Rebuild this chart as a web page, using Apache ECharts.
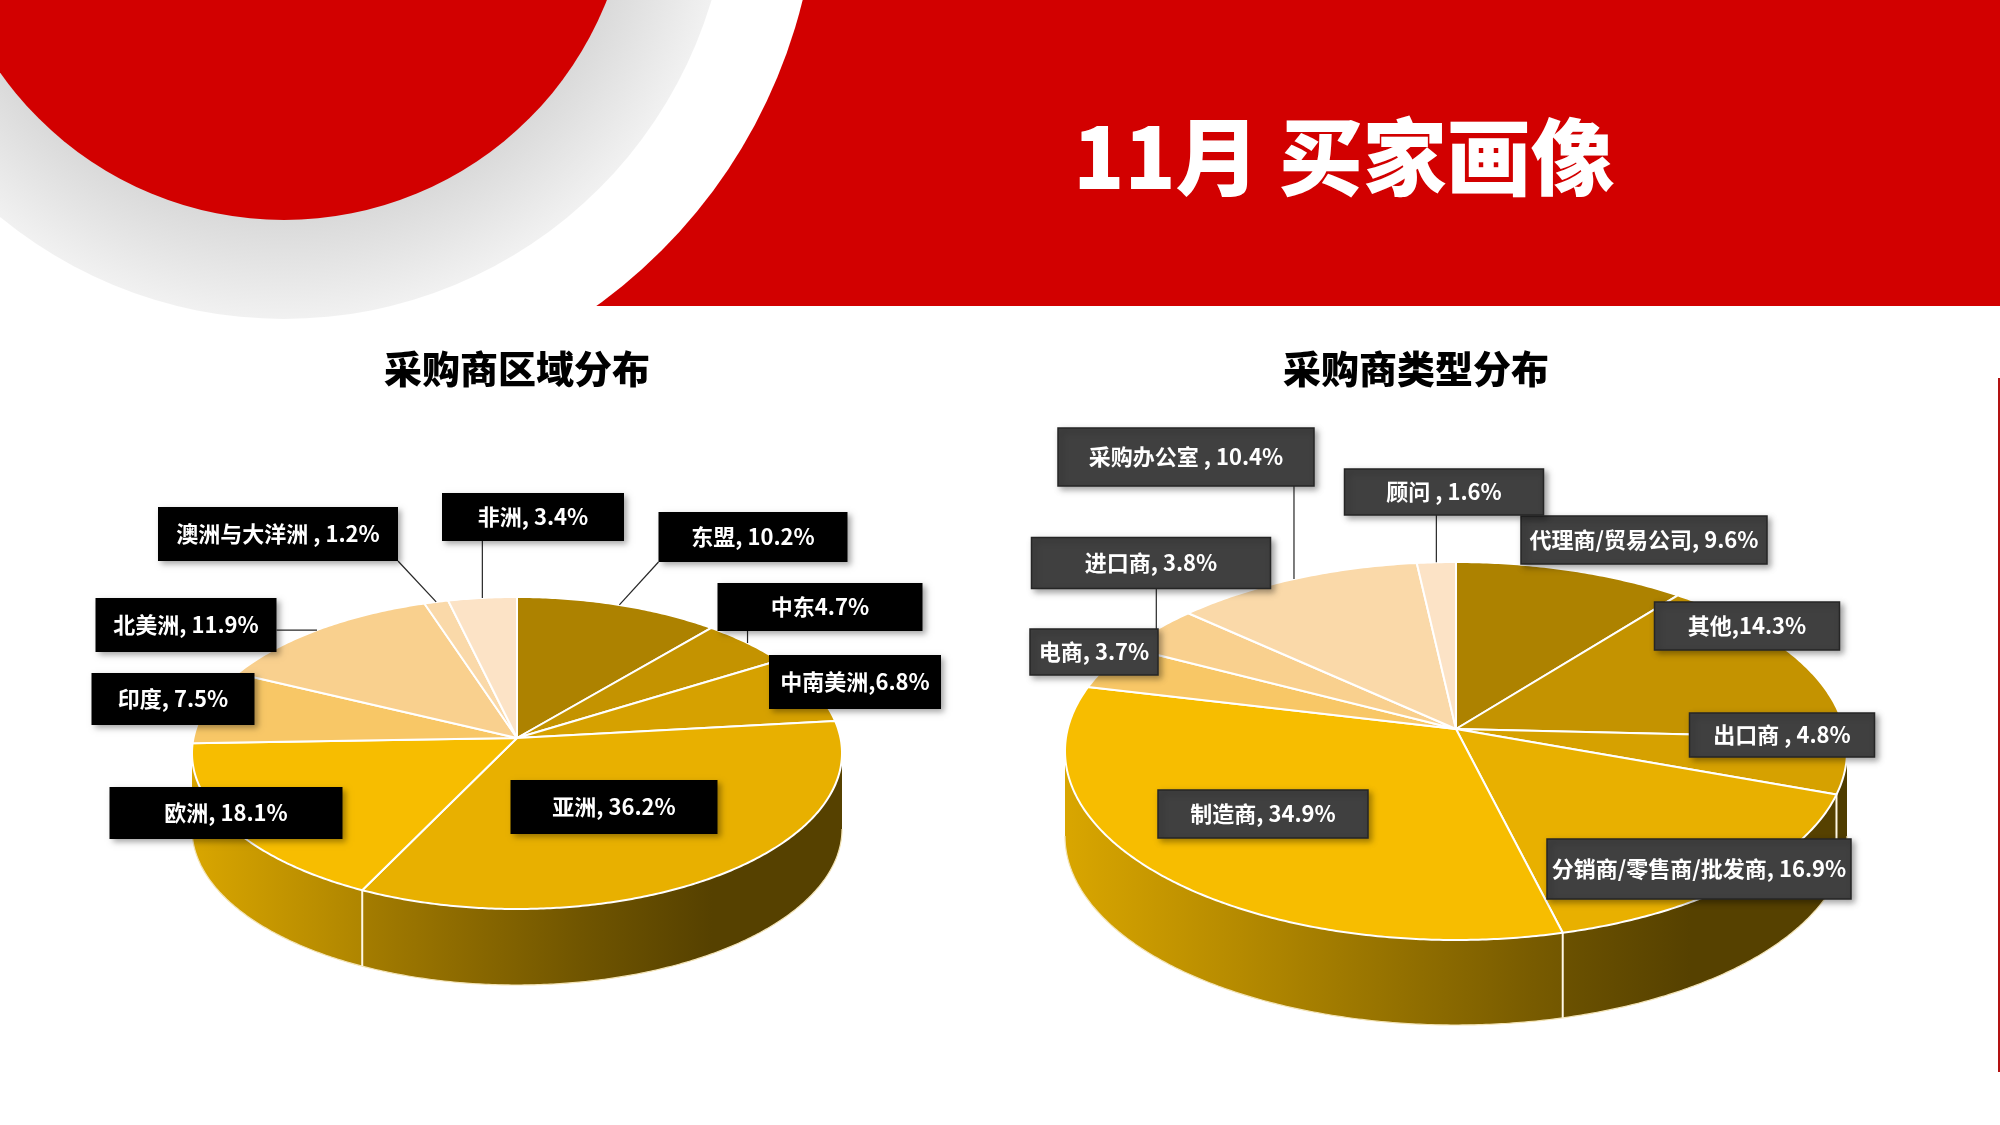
<!DOCTYPE html>
<html lang="zh-CN">
<head>
<meta charset="UTF-8">
<title>11月 买家画像</title>
<script src="https://cdn.jsdelivr.net/npm/echarts/dist/echarts.min.js"></script>
<style>
  html, body { margin: 0; padding: 0; background: #ffffff; }
  #main { width: 2000px; height: 1125px; }
</style>
</head>
<body>
<div id="main"></div>
<script>
// 采购商区域分布 (clockwise from 12 o'clock)
var regionNames = ['东盟', '中东', '中南美洲', '亚洲', '欧洲', '印度', '北美洲', '澳洲与大洋洲', '非洲'];
var regionValues = [10.2, 4.7, 6.8, 36.2, 18.1, 7.5, 11.9, 1.2, 3.4];
var regionLabels = ['东盟, 10.2%', '中东4.7%', '中南美洲,6.8%', '亚洲, 36.2%', '欧洲, 18.1%',
                    '印度, 7.5%', '北美洲, 11.9%', '澳洲与大洋洲 , 1.2%', '非洲, 3.4%'];

// 采购商类型分布
var typeNames = ['代理商/贸易公司', '其他', '出口商', '分销商/零售商/批发商', '制造商', '电商', '进口商', '采购办公室', '顾问'];
var typeValues = [9.6, 14.3, 4.8, 16.9, 34.9, 3.7, 3.8, 10.4, 1.6];
var typeLabels = ['代理商/贸易公司, 9.6%', '其他,14.3%', '出口商 , 4.8%', '分销商/零售商/批发商, 16.9%', '制造商, 34.9%',
                  '电商, 3.7%', '进口商, 3.8%', '采购办公室 , 10.4%', '顾问 , 1.6%'];

var goldColors = ['#ad8200', '#c49300', '#d6a100', '#e8b000', '#f7bd00', '#f8c766', '#f9d08e', '#fad9a9', '#fce3c6'];
var FONT = '"Noto Sans CJK SC", "Microsoft YaHei", sans-serif';

// pie layout: ellipse centre/radii, wall depth, label box centre offsets and sizes
var pies = [
  {
    id: 'region', names: regionNames, values: regionValues, labels: regionLabels,
    cx: 517, cy: 753, rx: 325, ry: 156, depth: 76, apexDy: -15,
    boxFill: '#000000', boxStroke: null,
    labelPos: [[236, -216], [303, -146], [338, -71], [97, 54], [-291, 60], [-344, -54], [-331, -128], [-239, -219], [16, -236]],
    labelBox: [[189, 50], [205, 48], [172, 54], [207, 54], [233, 52], [163, 52], [181, 54], [240, 54], [182, 48]]
  },
  {
    id: 'type', names: typeNames, values: typeValues, labels: typeLabels,
    cx: 1456, cy: 751, rx: 391, ry: 189, depth: 85, apexDy: -22,
    boxFill: '#404040', boxStroke: '#262626',
    labelPos: [[188, -211], [291, -125], [326, -16], [243, 118], [-193, 63], [-362, -99], [-305, -188], [-270, -294], [-12, -259]],
    labelBox: [[246, 48], [185, 48], [185, 44], [304, 60], [210, 48], [128, 46], [239, 51], [256, 58], [199, 46]]
  }
];

function sliceAngles(values) {
  var total = values.reduce(function (a, b) { return a + b; }, 0);
  var acc = 0;
  return values.map(function (v) {
    var a0 = acc / total * Math.PI * 2;
    acc += v;
    return [a0, acc / total * Math.PI * 2];
  });
}

function rim(p, t, dy) {
  return [p.cx + p.rx * Math.sin(t), p.cy - p.ry * Math.cos(t) + (dy || 0)];
}

function shade(hex, f) {
  var n = parseInt(hex.slice(1), 16);
  var r = (n >> 16) & 255, g = (n >> 8) & 255, b = n & 255;
  return 'rgb(' + Math.round(r * f) + ',' + Math.round(g * f) + ',' + Math.round(b * f) + ')';
}

function wallStops(hex) {
  return [0, 0.2, 0.4, 0.6, 0.8, 1].map(function (t) {
    return { offset: t, color: shade(hex, Math.max(0.37, 0.88 - 0.66 * t)) };
  });
}

function renderWall(p) {
  return function (params, api) {
    var s0 = api.value(1), s1 = api.value(2);
    var a0 = Math.max(s0, Math.PI / 2);
    var a1 = Math.min(s1, Math.PI * 1.5);
    if (a1 <= a0) return { type: 'group', children: [] };
    var n = Math.max(2, Math.ceil((a1 - a0) / 0.01));
    var top = [], bottom = [];
    for (var k = 0; k <= n; k++) {
      var t = a0 + (a1 - a0) * k / n;
      top.push(rim(p, t, 0));
      bottom.unshift(rim(p, t, p.depth));
    }
    var children = [{
      type: 'polygon',
      shape: { points: top.concat(bottom) },
      style: {
        fill: { type: 'linear', x: p.cx - p.rx, y: 0, x2: p.cx + p.rx, y2: 0, global: true,
                colorStops: wallStops(goldColors[params.dataIndex]) }
      }
    }, {
      type: 'polyline',
      shape: { points: bottom.slice() },
      style: { stroke: '#f3e3b4', lineWidth: 1.2, fill: null }
    }];
    // white seam only where a real slice boundary meets the wall
    if (s0 > Math.PI / 2 && s0 < Math.PI * 1.5) {
      var u = rim(p, s0, 0), d = rim(p, s0, p.depth);
      children.push({
        type: 'line',
        shape: { x1: u[0], y1: u[1], x2: d[0], y2: d[1] },
        style: { stroke: '#fff8e6', lineWidth: 2 }
      });
    }
    return { type: 'group', children: children };
  };
}

function renderTop(p) {
  return function (params, api) {
    var a0 = api.value(1), a1 = api.value(2);
    var pts = [[p.cx, p.cy + p.apexDy]];
    var n = Math.max(2, Math.ceil((a1 - a0) / 0.01));
    for (var k = 0; k <= n; k++) pts.push(rim(p, a0 + (a1 - a0) * k / n, 0));
    return {
      type: 'polygon',
      shape: { points: pts },
      style: { fill: goldColors[params.dataIndex], stroke: '#ffffff', lineWidth: 2, lineJoin: 'round' }
    };
  };
}

function renderLabel(p) {
  return function (params, api) {
    var i = params.dataIndex;
    var mid = (api.value(1) + api.value(2)) / 2;
    var anchor = rim(p, mid, 0);
    var ox = p.labelPos[i][0], oy = p.labelPos[i][1];
    var lx = p.cx + ox, ly = p.cy + oy;
    var w = p.labelBox[i][0], h = p.labelBox[i][1];
    var x0 = lx - w / 2, y0 = ly - h / 2;
    var ex = Math.min(Math.max(anchor[0], x0), x0 + w);
    var ey = Math.min(Math.max(anchor[1], y0), y0 + h);
    var onFace = (ox * ox) / (p.rx * p.rx) + (oy * oy) / (p.ry * p.ry) < 1;
    var children = [];
    if (!onFace && Math.hypot(anchor[0] - ex, anchor[1] - ey) > 9) {
      children.push({
        type: 'line',
        shape: { x1: anchor[0], y1: anchor[1], x2: ex, y2: ey },
        style: { stroke: '#262626', lineWidth: 1.2 }
      });
    }
    children.push({
      type: 'rect',
      shape: { x: x0, y: y0, width: w, height: h },
      style: {
        fill: p.boxFill, stroke: p.boxStroke, lineWidth: p.boxStroke ? 1.5 : 0,
        shadowBlur: 6, shadowOffsetX: 3, shadowOffsetY: 3, shadowColor: 'rgba(0,0,0,0.35)'
      }
    });
    children.push({
      type: 'text',
      x: lx, y: ly,
      style: {
        text: p.labels[i], fill: '#ffffff', font: 'bold 22px ' + FONT,
        align: 'center', verticalAlign: 'middle'
      }
    });
    return { type: 'group', children: children };
  };
}

var series = [];
pies.forEach(function (p) {
  var angles = sliceAngles(p.values);
  var data = p.values.map(function (v, i) {
    return { name: p.names[i], value: [v, angles[i][0], angles[i][1]] };
  });
  series.push({ type: 'custom', name: p.id + '-wall', coordinateSystem: 'none', z: 2, silent: true,
                renderItem: renderWall(p), data: data });
  series.push({ type: 'custom', name: p.id + '-top', coordinateSystem: 'none', z: 3, silent: true,
                renderItem: renderTop(p), data: data });
  series.push({ type: 'custom', name: p.id + '-label', coordinateSystem: 'none', z: 4, silent: true,
                renderItem: renderLabel(p), data: data });
});

var chart = echarts.init(document.getElementById('main'), null, { renderer: 'canvas' });
var option = {
  backgroundColor: '#ffffff',
  animation: false,
  graphic: [
    { type: 'rect', z: -10, shape: { x: 0, y: 0, width: 2000, height: 306 }, style: { fill: '#d20000' } },
    { type: 'circle', z: -9, shape: { cx: 284, cy: -127, r: 534 }, style: { fill: '#ffffff' } },
    { type: 'circle', z: -8, shape: { cx: 284, cy: -127, r: 446 },
      style: { fill: { type: 'radial', x: 0.5, y: 0.5, r: 0.5,
                       colorStops: [{ offset: 0, color: '#d8d8d8' }, { offset: 0.78, color: '#dadada' }, { offset: 1, color: '#f1f1f1' }] } } },
    { type: 'circle', z: -7, shape: { cx: 284, cy: -127, r: 347 }, style: { fill: '#d20000' } },
    { type: 'line', z: -6, shape: { x1: 1999, y1: 378, x2: 1999, y2: 1072 }, style: { stroke: '#b31212', lineWidth: 2 } },
    { type: 'text', z: 5, x: 1344, y: 157,
      style: { text: '11月 买家画像', fill: '#ffffff', font: '900 84px ' + FONT, align: 'center', verticalAlign: 'middle' } },
    { type: 'text', z: 5, x: 517, y: 369,
      style: { text: '采购商区域分布', fill: '#000000', font: '900 38px ' + FONT, align: 'center', verticalAlign: 'middle' } },
    { type: 'text', z: 5, x: 1416, y: 369,
      style: { text: '采购商类型分布', fill: '#000000', font: '900 38px ' + FONT, align: 'center', verticalAlign: 'middle' } }
  ],
  series: series
};
chart.setOption(option);
</script>
</body>
</html>
